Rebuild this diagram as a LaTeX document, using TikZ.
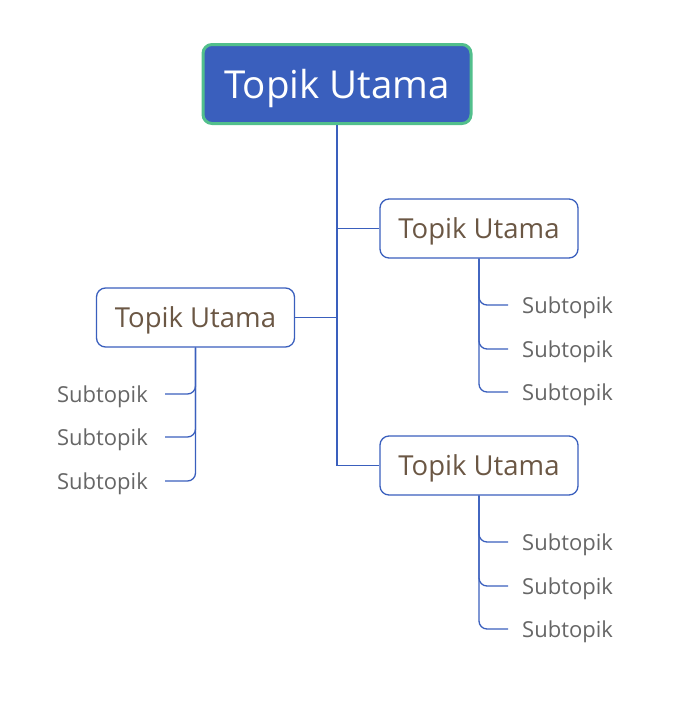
\documentclass[tikz,border=0pt]{standalone}
\usepackage{fontspec}
\setmainfont{Open Sans}
\definecolor{topikblue}{HTML}{3A5FBD}
\definecolor{topikgreen}{HTML}{52BF8C}
\definecolor{topikbrown}{HTML}{6B5744}
\definecolor{subgray}{HTML}{666666}
\tikzset{
  utama/.style={rectangle, rounded corners=9pt, fill=topikblue, draw=topikgreen,
    line width=3pt, text=white, minimum width=268pt, minimum height=79pt,
    text depth=0pt, font=\fontsize{38.5}{40}\selectfont},
  topik/.style={rectangle, rounded corners=9pt, draw=topikblue, fill=white,
    line width=1.3pt, text=topikbrown, minimum width=198pt, minimum height=59pt,
    text depth=0pt, font=\fontsize{27.5}{30}\selectfont},
  sub/.style={text=subgray, inner sep=0pt, text depth=0pt,
    font=\fontsize{22}{24}\selectfont},
  link/.style={draw=topikblue, line width=1.3pt},
}
\begin{document}
\begin{tikzpicture}[x=1pt, y=-1pt]
  \useasboundingbox (0,0) rectangle (675,705);
  % main topic
  \node[utama] (main) at (337,84) {Topik Utama};
  % topics
  \node[topik] (t1) at (479,228.5) {Topik Utama};
  \node[topik] (t2) at (479,465.5) {Topik Utama};
  \node[topik] (t3) at (195.5,317.5) {Topik Utama};
  % subtopics
  \node[sub, anchor=west] (s11) at (522,305) {Subtopik};
  \node[sub, anchor=west] (s12) at (522,349) {Subtopik};
  \node[sub, anchor=west] (s13) at (522,392) {Subtopik};
  \node[sub, anchor=west] (s21) at (522,542) {Subtopik};
  \node[sub, anchor=west] (s22) at (522,586) {Subtopik};
  \node[sub, anchor=west] (s23) at (522,629) {Subtopik};
  \node[sub, anchor=east] (s31) at (148,394) {Subtopik};
  \node[sub, anchor=east] (s32) at (148,437) {Subtopik};
  \node[sub, anchor=east] (s33) at (148,481) {Subtopik};
  % trunk
  \draw[link] (main.south) |- (t2.west);
  \draw[link] (main.south) |- (t1.west);
  \draw[link] (t3.east) -- (t3.east -| main.south);
  % branches
  \foreach \t/\s in {t1/s11, t1/s12, t1/s13, t2/s21, t2/s22, t2/s23}
    \draw[link, rounded corners=8pt] (\t.south) |- ([xshift=-14pt]\s.west);
  \foreach \s in {s31, s32, s33}
    \draw[link, rounded corners=8pt] (t3.south) |- ([xshift=17pt]\s.east);
\end{tikzpicture}
\end{document}
